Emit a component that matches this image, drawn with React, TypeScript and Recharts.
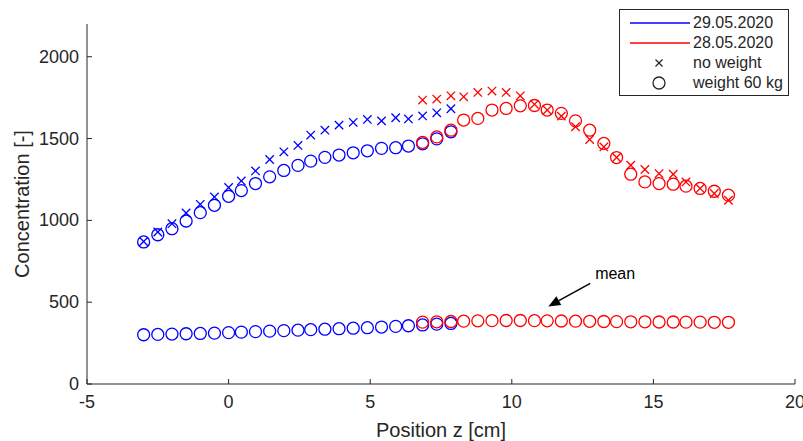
import React from 'react';
import { ScatterChart, Scatter, XAxis, YAxis, ReferenceLine, ReferenceDot } from 'recharts';

// Positions along z [cm]
const zBlue = [-3.0, -2.5, -2.0, -1.5, -1.0, -0.5, 0.0, 0.45, 0.95, 1.45, 1.95, 2.45, 2.9, 3.4, 3.9, 4.4, 4.9, 5.4, 5.9, 6.35, 6.85, 7.35, 7.85];
const zRed = [6.85, 7.35, 7.85, 8.3, 8.8, 9.3, 9.8, 10.3, 10.8, 11.25, 11.75, 12.25, 12.75, 13.25, 13.7, 14.2, 14.7, 15.2, 15.7, 16.15, 16.65, 17.15, 17.65];

// 29.05.2020 (blue)
const blueNoWeight = [871, 929, 980, 1045, 1098, 1143, 1201, 1241, 1302, 1372, 1419, 1458, 1521, 1551, 1582, 1599, 1617, 1608, 1627, 1620, 1638, 1657, 1682];
const blueWeight = [868, 912, 949, 996, 1047, 1092, 1147, 1182, 1225, 1266, 1305, 1336, 1362, 1385, 1399, 1413, 1425, 1440, 1444, 1454, 1468, 1498, 1541];
const blueMean = [301, 303, 305, 307, 309, 311, 314, 317, 320, 323, 326, 329, 332, 335, 338, 341, 344, 348, 352, 356, 361, 366, 370];

// 28.05.2020 (red)
const redNoWeight = [1735, 1741, 1761, 1755, 1782, 1790, 1782, 1761, 1709, 1674, 1637, 1572, 1494, 1449, 1384, 1337, 1311, 1286, 1282, 1235, 1195, 1164, 1123];
const redWeight = [1476, 1510, 1551, 1613, 1623, 1674, 1684, 1700, 1702, 1674, 1654, 1608, 1551, 1470, 1384, 1282, 1235, 1225, 1221, 1209, 1195, 1178, 1154];
const redMean = [378, 380, 382, 384, 386, 387, 388, 388, 387, 386, 385, 384, 383, 382, 381, 380, 380, 379, 379, 378, 378, 377, 377];

const xTicks = [-5, 0, 5, 10, 15, 20];
const yTicks = [0, 500, 1000, 1500, 2000];
const legendLabels = ['29.05.2020', '28.05.2020', 'no weight', 'weight 60 kg'];
const annotationText = 'mean';
const arrowFrom = { z: 12.77, c: 615 };
const arrowTo = { z: 11.29, c: 474 };
const textAt = { z: 13.65, c: 676 };

const BLUE = '#0000ff';
const RED = '#ff0000';
const TXT = '#262626';
const FONT = '"Liberation Sans", Arial, Helvetica, sans-serif';

const toPts = (zs: number[], cs: number[]) => zs.map((z, i) => ({ z, c: cs[i] }));

const circleShape = (color: string) => (p: any) => (
  <circle cx={p.cx} cy={p.cy} r={6} fill="none" stroke={color} strokeWidth={1.3} />
);
const crossShape = (color: string) => (p: any) => {
  const s = 4.2;
  return (
    <g stroke={color} strokeWidth={1.3}>
      <line x1={p.cx - s} y1={p.cy - s} x2={p.cx + s} y2={p.cy + s} />
      <line x1={p.cx - s} y1={p.cy + s} x2={p.cx + s} y2={p.cy - s} />
    </g>
  );
};

const XTick = (p: any) => (
  <g>
    <line x1={p.x} x2={p.x} y1={p.y} y2={p.y - 5} stroke={TXT} strokeWidth={1} />
    <text x={p.x} y={p.y + 18} textAnchor="middle" dominantBaseline="central" fill={TXT} fontSize={18} fontFamily={FONT}>
      {p.payload.value}
    </text>
  </g>
);
const YTick = (p: any) => (
  <g>
    <line x1={p.x} x2={p.x + 5} y1={p.y} y2={p.y} stroke={TXT} strokeWidth={1} />
    <text x={p.x - 8} y={p.y} textAnchor="end" dominantBaseline="central" fill={TXT} fontSize={18} fontFamily={FONT}>
      {p.payload.value}
    </text>
  </g>
);

const arrowShape = (p: any) => {
  const { x1, y1, x2, y2 } = p;
  const dx = x2 - x1;
  const dy = y2 - y1;
  const len = Math.sqrt(dx * dx + dy * dy);
  const ux = dx / len;
  const uy = dy / len;
  const hl = 12;
  const hw = 5;
  const bx = x2 - ux * hl;
  const by = y2 - uy * hl;
  return (
    <g>
      <line x1={x1} y1={y1} x2={bx} y2={by} stroke="#000" strokeWidth={1.5} />
      <polygon
        points={`${x2},${y2} ${bx - uy * hw},${by + ux * hw} ${bx + uy * hw},${by - ux * hw}`}
        fill="#000"
      />
    </g>
  );
};

const Legend = () => (
  <div
    style={{
      position: 'absolute',
      left: 619,
      top: 9,
      width: 170,
      height: 87,
      border: '1px solid #262626',
      background: '#fff',
      boxSizing: 'border-box',
      fontFamily: FONT,
      fontSize: 16,
      color: TXT,
    }}
  >
    <svg width={70} height={85} style={{ position: 'absolute', left: 0, top: 0 }}>
      <line x1={10} x2={70} y1={13} y2={13} stroke={BLUE} strokeWidth={1.3} />
      <line x1={10} x2={70} y1={33} y2={33} stroke={RED} strokeWidth={1.3} />
      <g stroke="#262626" strokeWidth={1.2}>
        <line x1={35.5} y1={49.5} x2={42.5} y2={56.5} />
        <line x1={35.5} y1={56.5} x2={42.5} y2={49.5} />
      </g>
      <circle cx={39} cy={73} r={6} fill="none" stroke="#262626" strokeWidth={1.3} />
    </svg>
    {legendLabels.map((t, i) => (
      <div key={t} style={{ position: 'absolute', left: 73, top: 3 + i * 20, lineHeight: '20px', whiteSpace: 'nowrap' }}>
        {t}
      </div>
    ))}
  </div>
);

export default function App() {
  return (
    <div style={{ position: 'absolute', left: 0, top: 0, width: 803, height: 441, background: '#fff' }}>
      <ScatterChart width={803} height={441} margin={{ top: 24, right: 8, bottom: 0, left: 0 }}>
        <XAxis
          type="number"
          dataKey="z"
          domain={[-5, 20]}
          ticks={xTicks}
          allowDataOverflow
          height={57}
          tickSize={0}
          tickMargin={0}
          tickLine={false}
          tick={XTick}
          axisLine={{ stroke: TXT, strokeWidth: 1 }}
          label={{
            content: (lp: any) => {
              const vb = lp.viewBox;
              return (
                <text x={vb.x + vb.width / 2} y={vb.y + 46} textAnchor="middle" dominantBaseline="central" fill={TXT} fontSize={20} fontFamily={FONT}>
                  Position z [cm]
                </text>
              );
            },
          }}
        />
        <YAxis
          type="number"
          dataKey="c"
          domain={[0, 2200]}
          ticks={yTicks}
          allowDataOverflow
          width={87}
          tickSize={0}
          tickMargin={0}
          tickLine={false}
          tick={YTick}
          axisLine={{ stroke: TXT, strokeWidth: 1 }}
          label={{
            content: (lp: any) => {
              const vb = lp.viewBox;
              const x = vb.x + 22;
              const y = vb.y + vb.height / 2;
              return (
                <text x={x} y={y} transform={`rotate(-90, ${x}, ${y})`} textAnchor="middle" dominantBaseline="central" fill={TXT} fontSize={20} fontFamily={FONT}>
                  Concentration [-]
                </text>
              );
            },
          }}
        />
        <Scatter name="blue no weight" data={toPts(zBlue, blueNoWeight)} shape={crossShape(BLUE)} isAnimationActive={false} />
        <Scatter name="blue weight" data={toPts(zBlue, blueWeight)} shape={circleShape(BLUE)} isAnimationActive={false} />
        <Scatter name="blue mean" data={toPts(zBlue, blueMean)} shape={circleShape(BLUE)} isAnimationActive={false} />
        <Scatter name="red no weight" data={toPts(zRed, redNoWeight)} shape={crossShape(RED)} isAnimationActive={false} />
        <Scatter name="red weight" data={toPts(zRed, redWeight)} shape={circleShape(RED)} isAnimationActive={false} />
        <Scatter name="red mean" data={toPts(zRed, redMean)} shape={circleShape(RED)} isAnimationActive={false} />
        <ReferenceLine
          segment={[{ x: arrowFrom.z, y: arrowFrom.c }, { x: arrowTo.z, y: arrowTo.c }]}
          shape={arrowShape}
        />
        <ReferenceDot
          x={textAt.z}
          y={textAt.c}
          r={0}
          shape={(p: any) => (
            <text x={p.cx} y={p.cy} textAnchor="middle" dominantBaseline="central" fill="#000" fontSize={16} fontFamily={FONT}>
              {annotationText}
            </text>
          )}
        />
      </ScatterChart>
      <Legend />
    </div>
  );
}
